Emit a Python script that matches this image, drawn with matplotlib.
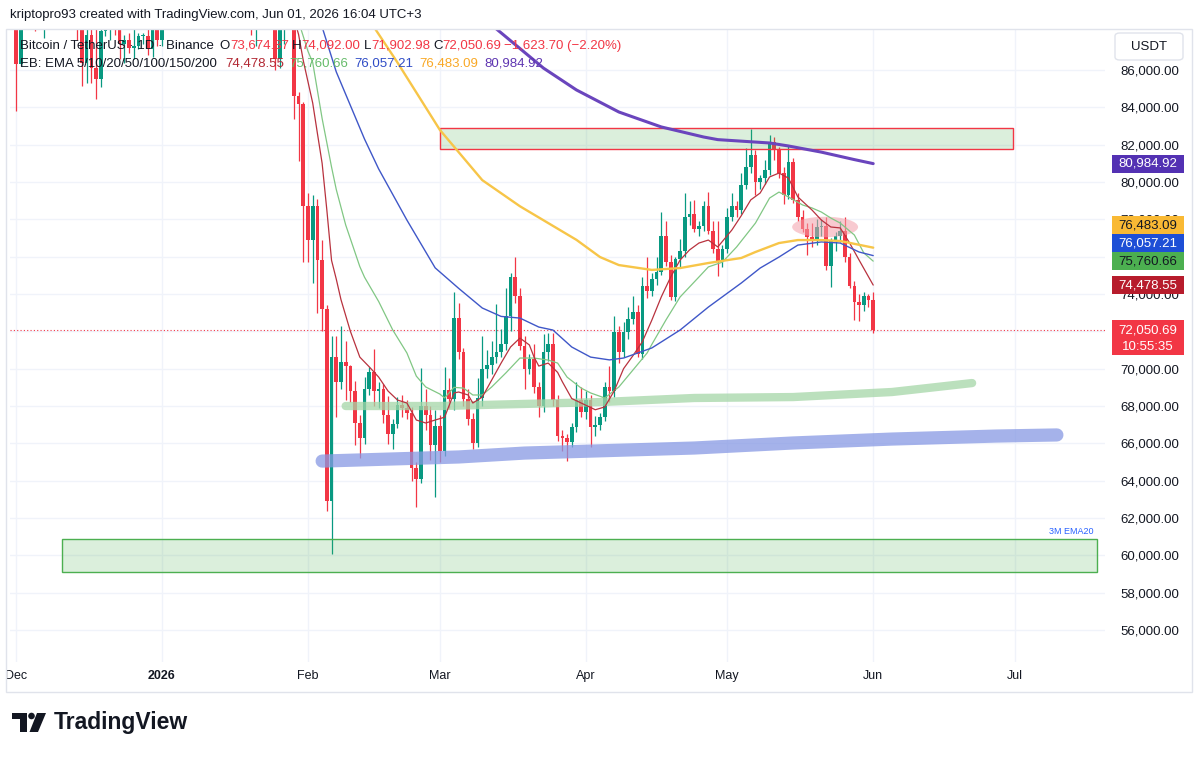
import matplotlib
matplotlib.use("Agg")
import matplotlib.pyplot as plt
import matplotlib.dates as mdates
from matplotlib.patches import Rectangle, Ellipse, Polygon, FancyBboxPatch
from matplotlib.transforms import blended_transform_factory
import numpy as np
import pandas as pd

plt.rcParams['font.family'] = ['Liberation Sans', 'DejaVu Sans']

# ---------------- data: BTC/USDT daily candles 2025-12-01 .. 2026-06-01
first_day = "2025-12-01"
opens = [
    # Dec
    90400, 86300, 91300, 93400, 92100, 89300, 89200, 90400, 90600, 92700, 92000, 92500, 90300, 90300, 88200, 86400,
    87900, 86100, 85500, 88100, 88300, 88600, 88500, 87400, 87600, 87200, 87300, 87800, 87800, 87100, 88400,
    # Jan
    87600, 88700, 90000, 90600, 91500, 93900, 93700, 91300, 91000, 90500, 90400, 90800, 91100, 95400, 97000, 95600,
    95500, 95100, 93600, 92600, 88300, 89400, 89500, 89500, 89200, 86600, 88300, 89300, 89200, 84600, 84200,
    # Feb
    78700, 76900, 78700, 75800, 73200, 62900, 70600, 69300, 70350, 70150, 68800, 67100, 66300, 68900, 69800, 68800,
    68900, 67500, 66500, 67050, 68050, 67900, 67650, 64700, 64100, 68000, 67500, 65900,
    # Mar
    66950, 65600, 68850, 68400, 72700, 70900, 68400, 67300, 66000, 68450, 70000, 70200, 70600, 70900, 71300, 72800,
    74900, 73900, 71200, 70000, 70500, 69000, 68000, 70900, 71300, 68300, 66400, 66300, 66050, 66850, 68300,
    # Apr
    67700, 68300, 66900, 67000, 67400, 69000, 68800, 71950, 70900, 71950, 72650, 73030, 70780, 74420, 74150, 74790,
    75160, 77090, 75700, 73830, 75860, 76280, 78150, 78260, 77460, 77620, 78690, 77350, 76390, 75750,
    # May
    76390, 78150, 78690, 78500, 79860, 80820, 81460, 80020, 80200, 80660, 82160, 81730, 80500, 79330, 81090, 79060,
    78150, 77460, 77030, 76900, 77570, 77620, 75480, 76820, 77090, 77350, 75960, 74450, 73580, 73430, 73880,
    # Jun
    73674.37,
]
highs = [
    91000, 92300, 94100, 94000, 92700, 90300, 91700, 92300, 94600, 94500, 93500, 92800, 90600, 90500, 90100, 88200,
    90400, 89500, 89000, 88600, 89000, 90600, 88900, 87900, 88000, 89500, 88000, 88000, 90400, 89000, 89200,
    88900, 90900, 90700, 91800, 94800, 94500, 93800, 91500, 92000, 90800, 91400, 92400, 96200, 97900, 97200, 95900,
    95600, 95500, 93700, 92800, 90400, 90300, 91200, 89800, 89300, 88800, 89400, 90600, 89500, 84800, 84300,
    79400, 79300, 79100, 76900, 73400, 71750, 71750, 72300, 71500, 70200, 69350, 67500, 69550, 70100, 71050, 69300,
    69200, 68550, 67300, 68500, 68600, 68300, 67950, 65000, 70050, 68900, 68000, 67800,
    67500, 70100, 69500, 74100, 73500, 71100, 68900, 67600, 69500, 71750, 71000, 71500, 73450, 72100, 74300, 75100,
    76000, 74300, 71750, 70800, 71300, 69300, 71850, 71900, 71900, 68600, 66700, 66500, 67100, 69300, 69000,
    68800, 68600, 67450, 67600, 69300, 70150, 72800, 72300, 72500, 73300, 73900, 73400, 74900, 76000, 75150, 76000,
    78370, 77900, 76100, 76000, 76930, 79430, 79000, 79050, 77900, 79000, 79490, 77900, 77890, 76600,
    78600, 79400, 79000, 80500, 81840, 82850, 81700, 80400, 81200, 82530, 82400, 81900, 80800, 82000, 81300, 79400,
    78500, 77800, 77800, 78000, 78000, 78100, 77000, 77300, 77900, 78100, 76200, 74700, 74000, 74100, 74000,
    74092.00,
]
lows = [
    83800, 86200, 91000, 90900, 88100, 88900, 87700, 89600, 89500, 91500, 89300, 89500, 89800, 87600, 85150, 85300,
    85300, 84450, 85100, 87800, 87600, 87900, 86600, 86400, 86900, 86600, 87100, 87400, 86800, 86700, 87300,
    87300, 88300, 89300, 90500, 91300, 92400, 90700, 89300, 89600, 90100, 90200, 90100, 91000, 94500, 95100, 94300,
    94900, 93500, 92000, 87900, 87300, 88500, 88400, 89100, 86000, 86100, 87400, 88800, 83400, 81100, 75700,
    75700, 74600, 73000, 72000, 62400, 60050, 67400, 68900, 68300, 68200, 65900, 65200, 65950, 68600, 68000, 67900,
    67100, 65950, 65700, 66800, 67400, 67300, 64000, 62600, 63900, 66700, 65100, 63150,
    65000, 65300, 67900, 67800, 70500, 68000, 67000, 65700, 65800, 68000, 69500, 69700, 70300, 70600, 71000, 72000,
    73500, 71000, 68900, 69700, 68700, 67400, 67700, 70400, 68000, 66100, 65600, 65050, 65800, 66600, 67400,
    67300, 65800, 66400, 66700, 67200, 68200, 68500, 70300, 70600, 71600, 72400, 70600, 70500, 73800, 73900, 74500,
    75000, 75500, 73700, 73600, 75400, 76000, 77700, 77300, 77100, 77400, 77200, 76200, 74950, 75430,
    76200, 77900, 78100, 78300, 79600, 80500, 79300, 79600, 79900, 80400, 81200, 80200, 78800, 79100, 78900, 77900,
    77300, 76100, 76500, 76600, 77100, 75300, 74360, 76300, 76800, 75700, 74300, 72600, 72550, 73100, 73300,
    71902.98,
]
closes = opens[1:] + [72050.69]

# EMA lines (date, value)
ema10 = [("2026-01-29", 88800), ("2026-01-30", 87900), ("2026-01-31", 86500), ("2026-02-02", 84230),
         ("2026-02-03", 82600), ("2026-02-04", 81000), ("2026-02-05", 78500), ("2026-02-06", 75800),
         ("2026-02-07", 74800), ("2026-02-08", 73700), ("2026-02-10", 72000), ("2026-02-12", 70620),
         ("2026-02-14", 70100), ("2026-02-16", 69550), ("2026-02-18", 68800), ("2026-02-20", 68320),
         ("2026-02-22", 68160), ("2026-02-24", 67250), ("2026-02-26", 67090), ("2026-02-28", 67250),
         ("2026-03-02", 67400), ("2026-03-04", 68700), ("2026-03-05", 68750), ("2026-03-07", 68590),
         ("2026-03-08", 68160), ("2026-03-10", 68480), ("2026-03-12", 69390), ("2026-03-14", 70300),
         ("2026-03-16", 71160), ("2026-03-18", 71640), ("2026-03-20", 71270), ("2026-03-21", 70620),
         ("2026-03-22", 70140), ("2026-03-24", 70300), ("2026-03-26", 69800), ("2026-03-27", 69300),
         ("2026-03-29", 68400), ("2026-03-31", 68160), ("2026-04-03", 67800), ("2026-04-05", 67950),
         ("2026-04-07", 68800), ("2026-04-09", 70000), ("2026-04-11", 70700), ("2026-04-13", 71450),
         ("2026-04-15", 72600), ("2026-04-17", 73840), ("2026-04-19", 74910), ("2026-04-21", 75820),
         ("2026-04-23", 76360), ("2026-04-25", 76730), ("2026-04-27", 76890), ("2026-04-29", 76520),
         ("2026-05-02", 77430), ("2026-05-04", 78200), ("2026-05-06", 79040), ("2026-05-08", 79410),
         ("2026-05-10", 80270), ("2026-05-12", 80480), ("2026-05-14", 80210), ("2026-05-16", 79200),
         ("2026-05-19", 78500), ("2026-05-21", 77960), ("2026-05-23", 77590), ("2026-05-25", 77540),
         ("2026-05-27", 76730), ("2026-05-29", 75820), ("2026-06-01", 74478.55)]
ema20 = [("2026-01-30", 88600), ("2026-02-01", 87000), ("2026-02-02", 86400), ("2026-02-04", 83400),
         ("2026-02-06", 80800), ("2026-02-07", 79600), ("2026-02-09", 77700), ("2026-02-12", 75470),
         ("2026-02-13", 74900), ("2026-02-16", 73600), ("2026-02-19", 72070), ("2026-02-22", 70840),
         ("2026-02-24", 69600), ("2026-02-26", 69020), ("2026-03-01", 68640), ("2026-03-02", 68430),
         ("2026-03-04", 69000), ("2026-03-06", 68960), ("2026-03-08", 68590), ("2026-03-10", 68590),
         ("2026-03-12", 69020), ("2026-03-15", 69770), ("2026-03-18", 70570), ("2026-03-21", 70570),
         ("2026-03-24", 70460), ("2026-03-26", 70300), ("2026-03-28", 69550), ("2026-03-31", 68960),
         ("2026-04-02", 68700), ("2026-04-05", 68430), ("2026-04-08", 69020), ("2026-04-11", 69930),
         ("2026-04-14", 70840), ("2026-04-15", 71300), ("2026-04-18", 72610), ("2026-04-21", 73840),
         ("2026-04-25", 74910), ("2026-04-27", 75450), ("2026-04-30", 75710), ("2026-05-03", 76520),
         ("2026-05-07", 77800), ("2026-05-10", 79140), ("2026-05-12", 79460), ("2026-05-14", 79200),
         ("2026-05-17", 78770), ("2026-05-19", 78610), ("2026-05-21", 78390), ("2026-05-23", 78070),
         ("2026-05-25", 77800), ("2026-05-28", 77160), ("2026-05-30", 76200), ("2026-06-01", 75760.66)]
ema50 = [("2026-01-29", 90800), ("2026-02-01", 89900), ("2026-02-04", 88300), ("2026-02-07", 85900),
         ("2026-02-13", 82300), ("2026-02-16", 80700), ("2026-02-22", 77960), ("2026-02-28", 75400),
         ("2026-03-05", 74300), ("2026-03-10", 73250), ("2026-03-14", 72800), ("2026-03-18", 72710),
         ("2026-03-22", 72230), ("2026-03-25", 72070), ("2026-03-29", 71160), ("2026-04-02", 70620),
         ("2026-04-06", 70470), ("2026-04-09", 70570), ("2026-04-15", 71110), ("2026-04-21", 72070),
         ("2026-04-27", 73300), ("2026-05-04", 74590), ("2026-05-08", 75390), ("2026-05-12", 75980),
         ("2026-05-16", 76620), ("2026-05-21", 76790), ("2026-05-25", 76730), ("2026-05-29", 76250),
         ("2026-06-01", 76057.21)]
ema100 = [("2026-02-09", 90400), ("2026-02-15", 88300), ("2026-02-20", 86400), ("2026-03-01", 82790),
          ("2026-03-10", 80100), ("2026-03-18", 78700), ("2026-03-30", 76900), ("2026-04-04", 75980),
          ("2026-04-08", 75550), ("2026-04-15", 75290), ("2026-04-21", 75390), ("2026-04-27", 75660),
          ("2026-05-04", 75930), ("2026-05-07", 76250), ("2026-05-12", 76730), ("2026-05-16", 76890),
          ("2026-05-21", 76890), ("2026-05-25", 76840), ("2026-06-01", 76483.09)]
ema200 = [("2026-03-05", 89600), ("2026-03-13", 88200), ("2026-03-23", 86100), ("2026-03-30", 84930),
          ("2026-04-08", 83750), ("2026-04-17", 82950), ("2026-04-26", 82410), ("2026-04-29", 82270),
          ("2026-05-10", 82090), ("2026-05-14", 81930), ("2026-05-21", 81600), ("2026-05-28", 81200),
          ("2026-06-01", 80984.92)]

# drawings on the chart
top_zone = ("2026-03-01", "2026-06-30 16:00", 81770, 82880)
bottom_zone = ("2025-12-10 19:00", "2026-07-18 12:00", 59110, 60870)
green_band_dates = ["2026-02-09", "2026-03-01", "2026-04-04", "2026-04-24", "2026-05-15", "2026-06-05", "2026-06-22"]
green_band_vals = [68000, 68000, 68210, 68430, 68480, 68750, 69230]
blue_band_dates = ["2026-02-04", "2026-03-05", "2026-03-19", "2026-04-24", "2026-05-15", "2026-06-05",
                   "2026-06-27", "2026-07-10"]
blue_band_vals = [65050, 65270, 65480, 65750, 66020, 66230, 66390, 66450]
pink_mark = ("2026-05-21 19:00", 77590)

month_ticks = ["2025-12-01", "2026-01-01", "2026-02-01", "2026-03-01", "2026-04-01", "2026-05-01",
               "2026-06-01", "2026-07-01"]
month_labels = ["Dec", "2026", "Feb", "Mar", "Apr", "May", "Jun", "Jul"]
price_ticks = list(range(56000, 86001, 2000))
hidden_ticks = [72000, 76000]   # covered by the price labels on the scale

UP, DOWN = "#089981", "#f23645"
TXT = "#131722"

W, H = 1200, 757
fig = plt.figure(figsize=(12, 7.57), dpi=100)
ax = fig.add_axes([10 / W, 1 - 662 / H, 1095 / W, 633 / H])


def dnum(s):
    return mdates.date2num(pd.to_datetime(s))


feb1 = dnum("2026-02-01")
ax.set_xlim(feb1 - 298 / 4.71, feb1 + 797 / 4.71)
ylo, yhi = 54287, 88196
ax.set_ylim(ylo, yhi)
ppx = (yhi - ylo) / 633.0

for s in ax.spines.values():
    s.set_visible(False)
ax.set_axisbelow(True)
ax.grid(True, color="#f0f3fa", lw=1)

# candles
x = mdates.date2num(pd.date_range(first_day, periods=len(opens), freq="D"))
o = np.array(opens); hi = np.array(highs); lo = np.array(lows); c = np.array(closes)
cols = np.where(c >= o, UP, DOWN)
ax.vlines(x, lo, hi, colors=cols, lw=0.9, zorder=3)
ax.bar(x, np.maximum(np.abs(c - o), 50), bottom=np.minimum(o, c), width=0.78, color=cols, lw=0, zorder=4)

# EMAs


def line(pts, color, lw):
    ax.plot([dnum(d) for d, _ in pts], [v for _, v in pts], color=color, lw=lw, zorder=6,
            solid_joinstyle="round", solid_capstyle="round")


line(ema20, "#81c784", 0.9)
line(ema10, "#b8323e", 0.9)
line(ema50, "#3f57c8", 1.0)
line(ema100, "#f7c548", 1.7)
line(ema200, "#6a45bd", 2.2)

# zones
for (d0, d1, p0, p1), ec in [(top_zone, "#f23645"), (bottom_zone, "#4caf50")]:
    ax.add_patch(Rectangle((dnum(d0), p0), dnum(d1) - dnum(d0), p1 - p0,
                           facecolor=(0.298, 0.686, 0.314, 0.2), edgecolor=ec, lw=1, zorder=5))

ax.plot([dnum(d) for d in green_band_dates], green_band_vals, color="#a5d6a7", alpha=0.75, lw=6,
        solid_capstyle="round", zorder=5)
ax.plot([dnum(d) for d in blue_band_dates], blue_band_vals, color="#8799e4", alpha=0.75, lw=9.5,
        solid_capstyle="round", zorder=5)
ax.add_patch(Ellipse((dnum(pink_mark[0]), pink_mark[1]), 14, 1100, facecolor="#f4a0aa", alpha=0.55,
                     lw=0, zorder=5))
ax.text(dnum("2026-07-17 17:00"), 61300, "3M EMA20", color="#2962ff", fontsize=6.5, ha="right",
        va="center", zorder=7)

# last price dotted line
ax.axhline(closes[-1], color=DOWN, lw=0.8, ls=(0, (1, 2)), zorder=2)

# axes ticks
ax.set_xticks([dnum(d) for d in month_ticks])
ax.set_xticklabels(month_labels)
ax.get_xticklabels()[1].set_fontweight("bold")
ax.tick_params(axis="x", length=0, pad=6, labelsize=9, labelcolor=TXT)
ax.yaxis.tick_right()
ax.set_yticks(price_ticks)
ax.set_yticklabels(["" if p in hidden_ticks else f"{p:,.2f}" for p in price_ticks])
ax.tick_params(axis="y", length=0, pad=11, labelsize=9.5, labelcolor=TXT)

# price labels on the right scale, stacked so they don't overlap
trans = blended_transform_factory(ax.transAxes, ax.transData)
bx0 = (1112 - 10) / 1095
bw = (1184 - 1112) / 1095
bxc = bx0 + bw / 2
last = closes[-1]
ax.add_patch(Rectangle((bx0, last - 25 * ppx), bw, 35 * ppx, transform=trans, clip_on=False,
                       facecolor=DOWN, lw=0, zorder=10))
ax.text(bxc, last, f"{last:,.2f}", transform=trans, ha="center", va="center", color="white",
        fontsize=9.5, zorder=11, clip_on=False)
ax.text(bxc, last - 17 * ppx, "10:55:35", transform=trans, ha="center", va="center", color="white",
        fontsize=9.5, zorder=11, clip_on=False)

ema_labels = [(74478.55, "#b71c2c", "white"), (75760.66, "#4caf50", TXT), (76057.21, "#1e4fd6", "white"),
              (76483.09, "#f9b934", TXT), (80984.92, "#5331b3", "white")]
prev_top = last + 10 * ppx
for v, fc, tc in sorted(ema_labels):
    cy = max(v, prev_top + 9 * ppx)
    prev_top = cy + 9 * ppx
    ax.add_patch(Rectangle((bx0, cy - 9 * ppx), bw, 18 * ppx, transform=trans, clip_on=False,
                           facecolor=fc, lw=0, zorder=10))
    ax.text(bxc, cy, f"{v:,.2f}", transform=trans, ha="center", va="center", color=tc, fontsize=9.5,
            zorder=11, clip_on=False)

# figure furniture


def fx(px):
    return px / W


def fy(py):
    return 1 - py / H


fig.add_artist(Rectangle((fx(6), fy(692)), fx(1186), 663 / H, transform=fig.transFigure, fill=False,
                         edgecolor="#e0e3eb", lw=1))
fig.add_artist(FancyBboxPatch((fx(1115), fy(60)), fx(68), 27 / H, boxstyle="round,pad=0,rounding_size=0.004",
                              transform=fig.transFigure, facecolor="white", edgecolor="#e0e3eb", lw=1))
fig.text(fx(1149), fy(46.5), "USDT", ha="center", va="center", fontsize=9.5, color=TXT)

fig.text(fx(10), fy(15), "kriptopro93 created with TradingView.com, Jun 01, 2026 16:04 UTC+3",
         fontsize=9.5, color=TXT, va="center")

renderer = fig.canvas.get_renderer()


def text_row(pieces, x_px, y_px, size):
    cur = x_px
    for s, col, gap in pieces:
        t = fig.text(fx(cur), fy(y_px), s, color=col, fontsize=size, va="center", ha="left", zorder=20)
        cur += t.get_window_extent(renderer).width + gap


text_row([("Bitcoin / TetherUS · 1D · Binance", TXT, 6), ("O", TXT, 0), ("73,674.37", DOWN, 3),
          ("H", TXT, 0), ("74,092.00", DOWN, 3), ("L", TXT, 0), ("71,902.98", DOWN, 3),
          ("C", TXT, 0), ("72,050.69", DOWN, 3), ("\u22121,623.70 (\u22122.20%)", DOWN, 0)], 20, 46, 9.5)
text_row([("EB: EMA 5/10/20/50/100/150/200", TXT, 8), ("74,478.55", "#b22833", 6),
          ("75,760.66", "#66bb6a", 6), ("76,057.21", "#2e4bc6", 6), ("76,483.09", "#f9a825", 6),
          ("80,984.92", "#5e35b1", 0)], 20, 64, 9.5)

# TradingView logo
fig.add_artist(Rectangle((fx(12), fy(719)), fx(15), 6 / H, transform=fig.transFigure, color=TXT, lw=0))
fig.add_artist(Rectangle((fx(20), fy(732)), fx(7), 19 / H, transform=fig.transFigure, color=TXT, lw=0))
fig.add_artist(Ellipse((fx(31.5), fy(716)), fx(6.6), 6.6 / H, transform=fig.transFigure, color=TXT, lw=0))
fig.add_artist(Polygon([(fx(37), fy(713)), (fx(46), fy(713)), (fx(38), fy(732)), (fx(29.5), fy(732))],
                       closed=True, transform=fig.transFigure, color=TXT, lw=0))
fig.text(fx(54), fy(722), "TradingView", fontsize=16.5, fontweight="bold", color=TXT, va="center")

fig.savefig("out.png", dpi=100, facecolor="white")
